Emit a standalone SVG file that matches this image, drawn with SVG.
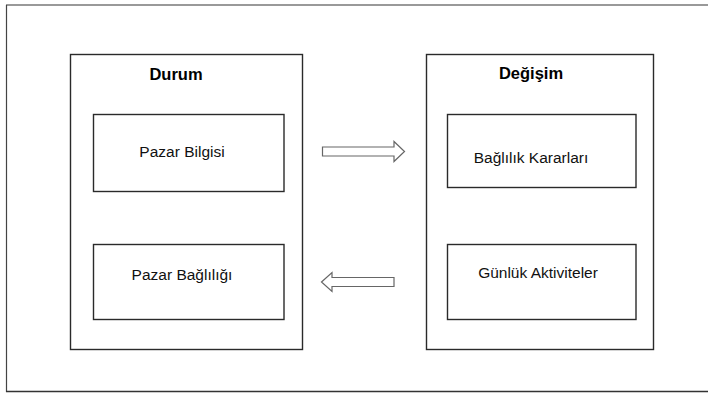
<svg xmlns="http://www.w3.org/2000/svg" width="708" height="394" viewBox="0 0 708 394">
<style>
.box{fill:none;stroke:#2a2a2a;stroke-width:1.4}
.t{font-family:"Liberation Sans",Arial,sans-serif;font-size:15.5px;fill:#111;text-anchor:middle}
.h{font-family:"Liberation Sans",Arial,sans-serif;font-size:16.5px;font-weight:bold;fill:#000;text-anchor:middle}
.arr{fill:#fff;stroke:#666;stroke-width:1.2;stroke-linejoin:miter}
</style>
<rect width="708" height="394" fill="#fff"/>
<g id="frame">
<line x1="6" y1="5" x2="708" y2="5" stroke="#777" stroke-width="1.3"/>
<line x1="6.5" y1="5" x2="6.5" y2="392" stroke="#444" stroke-width="1.2"/>
<line x1="6" y1="391.5" x2="708" y2="391.5" stroke="#333" stroke-width="1.3"/>
</g>
<g id="durum">
<rect class="box" x="70.5" y="54.5" width="232" height="295"/>
<text class="h" x="176" y="80">Durum</text>
</g>
<g id="pazar-bilgisi">
<rect class="box" x="93.5" y="114.5" width="190.5" height="77"/>
<text class="t" x="182" y="157">Pazar Bilgisi</text>
</g>
<g id="pazar-bagliligi">
<rect class="box" x="93.5" y="244.5" width="190.5" height="75"/>
<text class="t" x="182" y="280">Pazar Bağlılığı</text>
</g>
<g id="degisim">
<rect class="box" x="426.5" y="54.5" width="227" height="295"/>
<text class="h" x="531" y="79">Değişim</text>
</g>
<g id="baglilik-kararlari">
<rect class="box" x="447.5" y="114.5" width="188.5" height="73"/>
<text class="t" x="531" y="163">Bağlılık Kararları</text>
</g>
<g id="gunluk-aktiviteler">
<rect class="box" x="447.5" y="244.5" width="188.5" height="75"/>
<text class="t" x="538" y="278">Günlük Aktiviteler</text>
</g>
<g id="connectors">
<polygon class="arr" points="322.5,147 394,147 394,141.5 404.5,151.5 394,161.5 394,156 322.5,156"/>
<polygon class="arr" points="321.5,282 332,272.5 332,277.5 394,277.5 394,286.5 332,286.5 332,291.5"/>
</g>
</svg>
